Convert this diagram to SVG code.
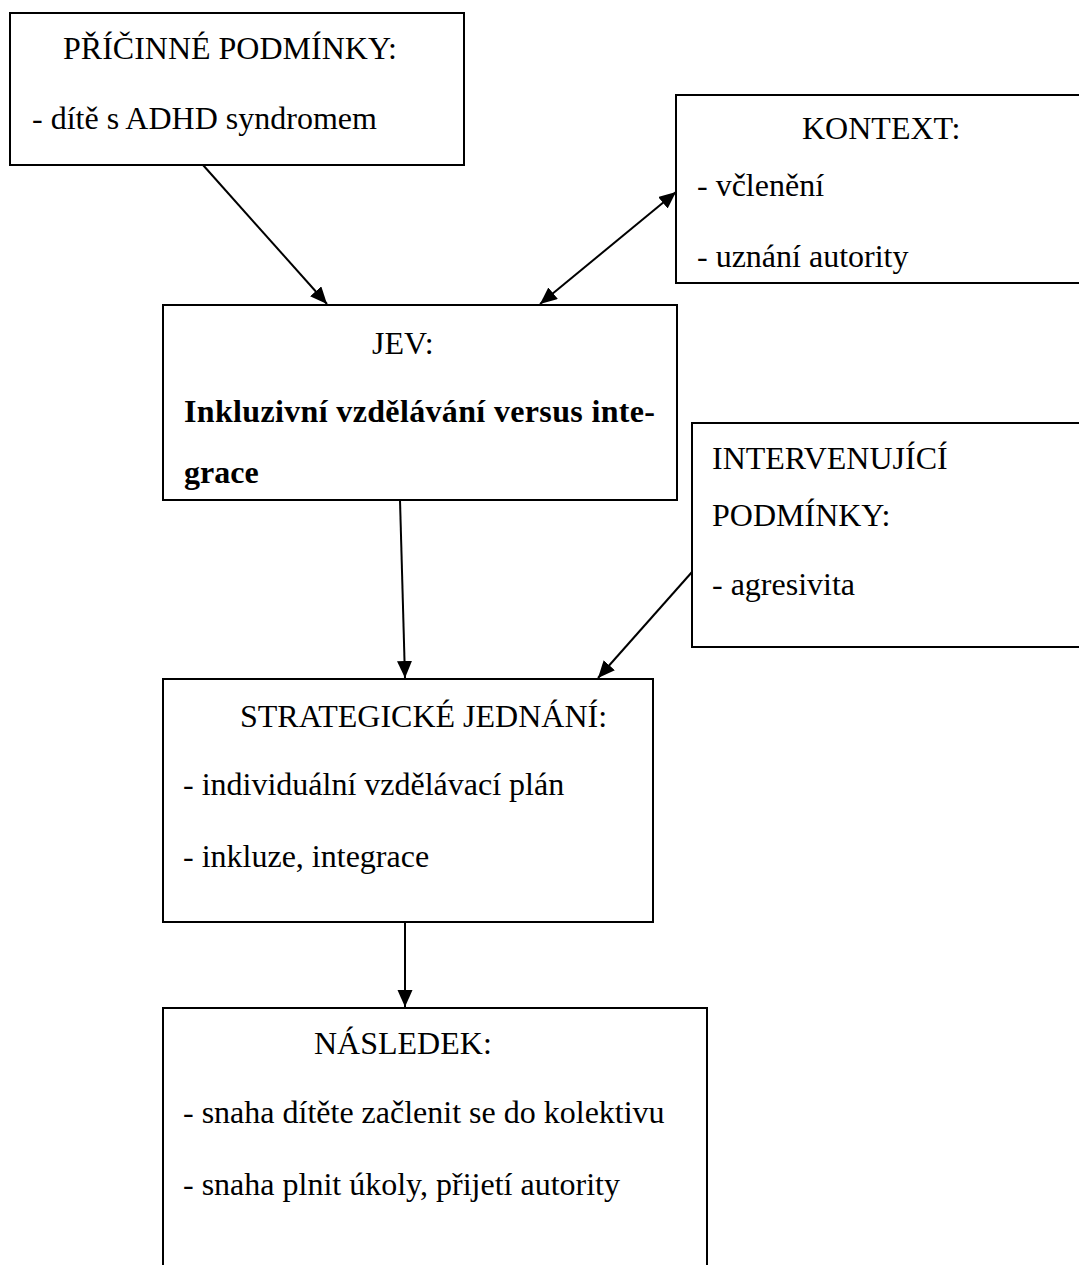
<svg xmlns="http://www.w3.org/2000/svg" width="1079" height="1265" viewBox="0 0 1079 1265">
<style>
.box{fill:#fff;stroke:#000;stroke-width:2}
.t{font-family:"Liberation Serif","Times New Roman",serif;font-size:32px;fill:#000}
.b{font-weight:bold}
.c{stroke:#000;stroke-width:2;fill:none}
</style>
<defs>
<marker id="ah" markerUnits="userSpaceOnUse" markerWidth="20" markerHeight="16" refX="17" refY="7.5" orient="auto-start-reverse">
<path d="M0,0 L17,7.5 L0,15 Z" fill="#000"/>
</marker>
</defs>
<rect width="1079" height="1265" fill="#fff"/>
<g id="pricinne">
<rect class="box" x="10" y="13" width="454" height="152"/>
<text class="t" x="63" y="59">PŘÍČINNÉ PODMÍNKY:</text>
<text class="t" x="32" y="129">- dítě s ADHD syndromem</text>
</g>
<g id="kontext">
<rect class="box" x="676" y="95" width="420" height="188"/>
<text class="t" x="802" y="139">KONTEXT:</text>
<text class="t" x="697" y="196">- včlenění</text>
<text class="t" x="697" y="267">- uznání autority</text>
</g>
<g id="jev">
<rect class="box" x="163" y="305" width="514" height="195"/>
<text class="t" x="372" y="354">JEV:</text>
<text class="t b" x="184" y="422" textLength="471" lengthAdjust="spacing">Inkluzivní vzdělávání versus inte-</text>
<text class="t b" x="184" y="483">grace</text>
</g>
<g id="intervenujici">
<rect class="box" x="692" y="423" width="400" height="224"/>
<text class="t" x="712" y="469">INTERVENUJÍCÍ</text>
<text class="t" x="712" y="526">PODMÍNKY:</text>
<text class="t" x="712" y="595">- agresivita</text>
</g>
<g id="strategicke">
<rect class="box" x="163" y="679" width="490" height="243"/>
<text class="t" x="240" y="727">STRATEGICKÉ JEDNÁNÍ:</text>
<text class="t" x="183" y="795">- individuální vzdělávací plán</text>
<text class="t" x="183" y="867">- inkluze, integrace</text>
</g>
<g id="nasledek">
<rect class="box" x="163" y="1008" width="544" height="280"/>
<text class="t" x="314" y="1054">NÁSLEDEK:</text>
<text class="t" x="183" y="1123">- snaha dítěte začlenit se do kolektivu</text>
<text class="t" x="183" y="1195">- snaha plnit úkoly, přijetí autority</text>
</g>
<g id="connectors">
<line class="c" x1="203" y1="165" x2="327" y2="304" marker-end="url(#ah)"/>
<line class="c" x1="540" y1="304" x2="676" y2="192" marker-start="url(#ah)" marker-end="url(#ah)"/>
<line class="c" x1="400" y1="500" x2="405" y2="678" marker-end="url(#ah)"/>
<line class="c" x1="692" y1="572" x2="598" y2="678" marker-end="url(#ah)"/>
<line class="c" x1="405" y1="922" x2="405" y2="1007" marker-end="url(#ah)"/>
</g>
</svg>
